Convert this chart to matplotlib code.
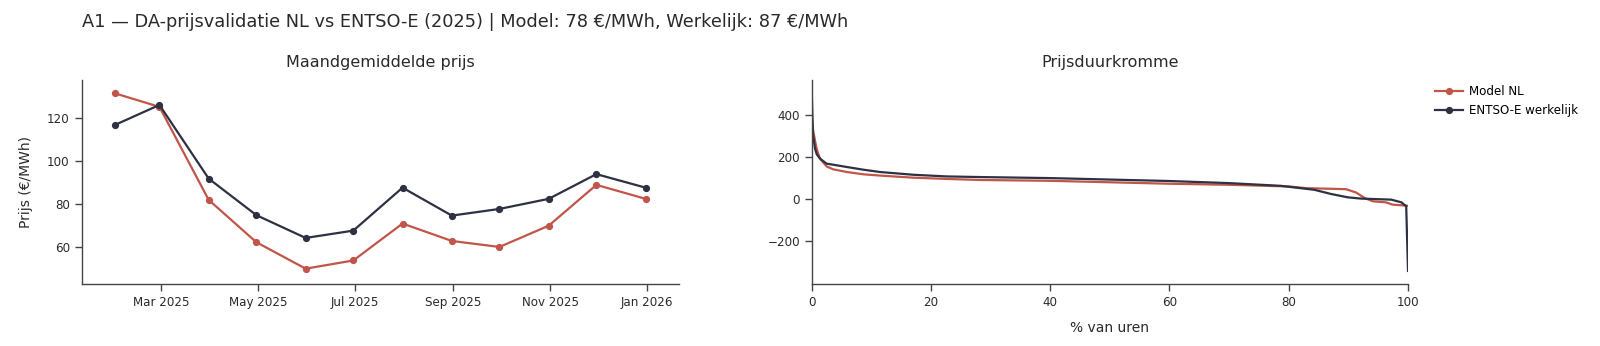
import datetime as dt
import matplotlib
matplotlib.use("Agg")
import matplotlib.pyplot as plt
import matplotlib.dates as mdates

plt.rcParams['font.family'] = ['DejaVu Sans']

# maandgemiddelden (maandeinde-datums)
months = [(dt.date(2025 + (m // 12), m % 12 + 1, 1) - dt.timedelta(days=1)) for m in range(1, 13)]
model_month = [131.6, 125.3, 82.0, 62.3, 50.0, 53.8, 71.0, 62.9, 60.1, 70.0, 89.0, 82.5]
entsoe_month = [116.9, 126.2, 91.9, 74.9, 64.3, 67.7, 87.7, 74.7, 77.8, 82.5, 94.0, 87.7]

model_pct = [0.0, 0.2, 0.6, 0.9, 1.4, 2.5, 3.6, 5.9, 8.7, 11.5, 17.0, 22.6, 28.2, 40.0, 60.0,
             70.0, 80.0, 82.9, 89.6, 91.3, 92.7, 94.1, 96.3, 97.4, 100.0]
model_price = [400, 336, 272, 233, 193, 156, 142, 129, 118, 112, 102, 96, 91, 87, 73,
               68, 60, 52, 47, 31, 5, -11, -16, -27, -32]
entsoe_pct = [0.0, 0.2, 0.56, 0.84, 1.4, 2.5, 3.6, 5.9, 8.7, 11.5, 17.0, 22.6, 28.2, 40.0, 60.0,
              70.0, 78.7, 84.3, 87.1, 89.9, 92.1, 97.2, 98.9, 99.7, 100.0]
entsoe_price = [520, 312, 241, 214, 193, 169, 164, 153, 140, 129, 116, 108, 105, 100, 86,
                76, 63, 44, 24, 8, 2, -3, -16, -35, -344]

RED = '#c0554a'
DARK = '#2d3142'
TXT = '#2a2a2a'
W, H = 1600, 346

fig = plt.figure(figsize=(W / 100, H / 100), dpi=100)

def px_axes(x0, x1, y0, y1):
    return fig.add_axes([x0 / W, 1 - y1 / H, (x1 - x0) / W, (y1 - y0) / H])

ax1 = px_axes(81.6, 679, 79.6, 283.7)
ax2 = px_axes(811.7, 1408, 79.6, 283.7)

for ax in (ax1, ax2):
    for s in ('top', 'right'):
        ax.spines[s].set_visible(False)
    for s in ('left', 'bottom'):
        ax.spines[s].set_color('#444444')
        ax.spines[s].set_linewidth(1.0)
    ax.tick_params(direction='out', length=5, width=1, color='#444444',
                   labelsize=8.6, labelcolor=TXT)

l1, = ax1.plot(months, model_month, color=RED, lw=1.6, marker='o', ms=4.2, label='Model NL')
l2, = ax1.plot(months, entsoe_month, color=DARK, lw=1.6, marker='o', ms=4.2, label='ENTSO-E werkelijk')
ax1.set_xlim(dt.date(2025, 1, 10), dt.date(2026, 1, 21))
ax1.set_ylim(43, 138)
ax1.set_yticks([60, 80, 100, 120])
ax1.xaxis.set_major_locator(mdates.MonthLocator(bymonth=[1, 3, 5, 7, 9, 11]))
ax1.xaxis.set_major_formatter(mdates.DateFormatter('%b %Y'))
ax1.set_ylabel('Prijs (€/MWh)', fontsize=10, color=TXT, labelpad=10)
ax1.set_title('Maandgemiddelde prijs', fontsize=11.5, color=TXT, pad=9)

ax2.plot(model_pct, model_price, color=RED, lw=1.6)
ax2.plot(entsoe_pct, entsoe_price, color=DARK, lw=1.6)
ax2.set_xlim(0, 100)
ax2.set_ylim(-405, 571)
ax2.set_yticks([-200, 0, 200, 400])
ax2.set_xticks([0, 20, 40, 60, 80, 100])
ax2.set_xlabel('% van uren', fontsize=10, color=TXT, labelpad=9)
ax2.set_title('Prijsduurkromme', fontsize=11.5, color=TXT, pad=9)

fig.legend(handles=[l1, l2], loc='upper left', bbox_to_anchor=(1430 / W, 1 - 80 / H),
           frameon=False, fontsize=8.6, handlelength=2.4, handletextpad=0.5,
           labelspacing=0.55, borderaxespad=0)

fig.text(81.6 / W, 1 - 22.4 / H,
         'A1 — DA-prijsvalidatie NL vs ENTSO-E (2025) | Model: 78 €/MWh, Werkelijk: 87 €/MWh',
         fontsize=12.8, color=TXT, va='center', ha='left')

fig.savefig('out.png', dpi=100)
